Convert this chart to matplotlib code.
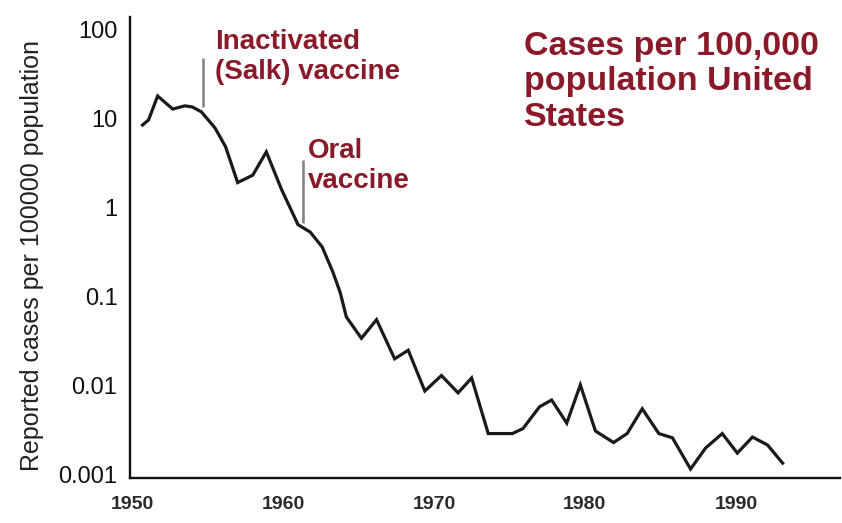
import matplotlib
matplotlib.use("Agg")
import matplotlib.pyplot as plt

plt.rcParams['font.family'] = ['Liberation Sans', 'DejaVu Sans']

# Data (year, reported cases per 100,000)
years = [1950.7, 1951.1, 1951.7, 1952.7, 1953.5, 1954.0, 1954.6, 1955.5, 1956.2,
         1957.0, 1958.0, 1958.9, 1959.9, 1961.0, 1961.8, 1962.6, 1963.3, 1963.8,
         1964.2, 1965.2, 1966.2, 1967.4, 1968.3, 1969.4, 1970.5, 1971.6, 1972.5,
         1973.6, 1975.2, 1975.9, 1977.0, 1977.8, 1978.8, 1979.7, 1980.7, 1981.9,
         1982.8, 1983.8, 1984.9, 1985.8, 1987.0, 1988.0, 1989.1, 1990.1, 1991.1,
         1992.1, 1993.1]
rates = [8.4, 9.6, 17.8, 12.7, 13.8, 13.4, 11.8, 7.8, 4.8,
         1.9, 2.3, 4.2, 1.6, 0.64, 0.53, 0.36, 0.19, 0.11,
         0.059, 0.034, 0.055, 0.020, 0.025, 0.0087, 0.013, 0.0083, 0.0122,
         0.0029, 0.0029, 0.0033, 0.0058, 0.0069, 0.0038, 0.0102, 0.0031, 0.0023,
         0.0029, 0.0055, 0.0029, 0.0026, 0.00116, 0.0020, 0.0029, 0.00175, 0.00265,
         0.00216, 0.00135]

ytick_vals = [100, 10, 1, 0.1, 0.01, 0.001]
ytick_labels = ['100', '10', '1', '0.1', '0.01', '0.001']
xtick_vals = [1950, 1960, 1970, 1980, 1990]
xtick_labels = ['1950', '1960', '1970', '1980', '1990']

# vaccine markers: (year, low, high)
salk_marker = (1954.7, 13.4, 47.5)
oral_marker = (1961.3, 0.67, 3.4)

W, H = 842, 523
fig = plt.figure(figsize=(W / 100, H / 100), dpi=100)
fig.patch.set_facecolor('white')
ax = fig.add_axes([130 / W, 1 - 478 / H, 710 / W, 461 / H])

ax.plot(years, rates, color='#1a1a1a', linewidth=2.3, solid_joinstyle='miter')
ax.set_yscale('log')
ax.set_xlim(1949.87, 1996.9)
ax.set_ylim(0.00092, 137)

ax.set_yticks(ytick_vals)
ax.set_yticklabels(ytick_labels)
ax.minorticks_off()
ax.set_xticks(xtick_vals)
ax.set_xticklabels(xtick_labels, fontweight='bold')
ax.tick_params(axis='y', length=0, pad=9, labelsize=17, labelcolor='#111111')
ax.tick_params(axis='x', length=0, pad=13, labelsize=14, labelcolor='#2a2a2a')

for s in ['top', 'right']:
    ax.spines[s].set_visible(False)
for s in ['left', 'bottom']:
    ax.spines[s].set_linewidth(1.7)
    ax.spines[s].set_color('#111111')

ax.set_ylabel('Reported cases per 100000 population', fontsize=18, color='#222222')
ax.yaxis.set_label_coords(-(130 - 32) / 710, (478 - 256) / 461)
ax.yaxis.label.set_va('center')

ax.vlines([salk_marker[0]], salk_marker[1], salk_marker[2], color='#808080', linewidth=1.8)
ax.vlines([oral_marker[0]], oral_marker[1], oral_marker[2], color='#808080', linewidth=1.8)

red = '#8a1a2a'
fig.text(215 / W, 1 - 57 / H, 'Inactivated\n(Salk) vaccine', color=red, fontsize=20,
         fontweight='bold', ha='left', va='center', linespacing=1.2)
fig.text(308 / W, 1 - 166 / H, 'Oral\nvaccine', color=red, fontsize=20,
         fontweight='bold', ha='left', va='center', linespacing=1.2)
fig.text(524 / W, 1 - 82 / H, 'Cases per 100,000\npopulation United\nStates', color=red,
         fontsize=24.5, fontweight='bold', ha='left', va='center', linespacing=1.18)

fig.savefig('out.png', dpi=100)
